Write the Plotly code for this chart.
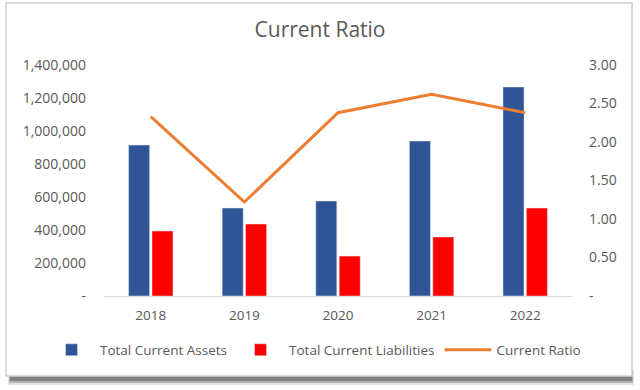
import plotly.graph_objects as go

years = ["2018", "2019", "2020", "2021", "2022"]
assets = [915000, 533000, 576000, 939000, 1267000]
liabilities = [394000, 436000, 242000, 358000, 533000]
ratio = [2.33, 1.22, 2.38, 2.62, 2.38]

left_vals = [0, 200000, 400000, 600000, 800000, 1000000, 1200000, 1400000]
left_text = ["-", "200,000", "400,000", "600,000", "800,000", "1,000,000", "1,200,000", "1,400,000"]
right_vals = [0, 0.5, 1.0, 1.5, 2.0, 2.5, 3.0]
right_text = ["-", "0.50", "1.00", "1.50", "2.00", "2.50", "3.00"]

FONT = "Open Sans"
GREY = "#595959"

fig = go.Figure()
fig.add_trace(go.Bar(x=years, y=assets, name="Total Current Assets", marker_color="#2F5597"))
fig.add_trace(go.Bar(x=years, y=liabilities, name="Total Current Liabilities", marker_color="#FF0000"))
fig.add_trace(go.Scatter(x=years, y=ratio, name="Current Ratio", mode="lines",
                         line=dict(color="#ED7D31", width=3), yaxis="y2"))

L, R, T, B = 104, 572, 65, 296
W = R - L
H = B - T
def px(x):
    return (x - L) / W
def py(y):
    return (B - y) / H

shapes = []
# shadow
for i, op in enumerate([0.15, 0.3, 0.45]):
    shapes.append(dict(type="rect", xref="paper", yref="paper",
                       x0=px(8 + i), x1=px(634 - i), y0=py(385 - 2 * i), y1=py(370),
                       fillcolor="rgba(70,70,70,%s)" % op, line=dict(width=0), layer="below"))
shapes.append(dict(type="rect", xref="paper", yref="paper",
                   x0=px(6), x1=px(632), y0=py(376), y1=py(3),
                   fillcolor="white", line=dict(color="#CFCFCF", width=1.5), layer="below"))

fig.update_layout(
    width=640, height=390,
    margin=dict(l=L, r=640 - R, t=T, b=390 - B),
    paper_bgcolor="white", plot_bgcolor="rgba(0,0,0,0)",
    font=dict(family=FONT, color=GREY, size=13),
    title=dict(text="Current Ratio", x=0.5, xanchor="center", y=1 - 30 / 390, yanchor="middle",
               font=dict(size=21, color=GREY, family=FONT)),
    barmode="group", bargap=0.5, bargroupgap=0.1,
    showlegend=True,
    legend=dict(orientation="h", x=px(43), xanchor="left", y=py(350), yanchor="middle",
                font=dict(size=13.5, color=GREY), itemwidth=47, traceorder="normal"),
    xaxis=dict(showline=True, linecolor="#D9D9D9", linewidth=1, showgrid=False,
               ticks="", tickfont=dict(size=13.5, color=GREY), ticklabelstandoff=7),
    yaxis=dict(range=[0, 1400000], tickvals=left_vals, ticktext=left_text, showgrid=False,
               zeroline=False, showline=False, tickfont=dict(size=14, color=GREY),
               ticklabelstandoff=17),
    yaxis2=dict(range=[0, 3.0], tickvals=right_vals, ticktext=right_text, overlaying="y",
                side="right", showgrid=False, zeroline=False, showline=False,
                tickfont=dict(size=14, color=GREY), ticklabelstandoff=16),
    shapes=shapes,
)

fig.write_html("out.html")
